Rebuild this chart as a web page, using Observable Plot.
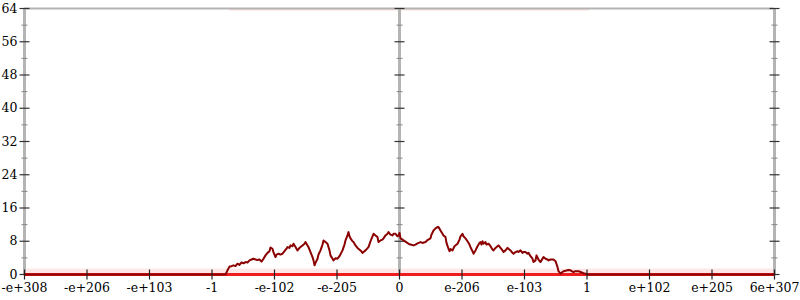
<!DOCTYPE html>
<html>
<head>
<meta charset="utf-8">
<script src="https://cdn.jsdelivr.net/npm/d3@7"></script>
<script src="https://cdn.jsdelivr.net/npm/@observablehq/plot@0.6"></script>
<style>
  html, body { margin: 0; padding: 0; background: #fff; }
</style>
</head>
<body>
<div id="chart"></div>
<script>
// x is a bin index over the bit-pattern axis (0 .. 750); 13 labelled ticks
const xTickValues = [0, 62.5, 125, 187.5, 250, 312.5, 375, 437.5, 500, 562.5, 625, 687.5, 750];
const xTickLabels = ["-e+308", "-e+206", "-e+103", "-1", "-e-102", "-e-205", "0",
                     "e-206", "e-103", "1", "e+102", "e+205", "6e+307"];
const yMajorTicks = [0, 8, 16, 24, 32, 40, 48, 56, 64];
const yMinorTicks = [4, 12, 20, 28, 36, 44, 52, 60];
const axisLines = [0, 375, 750];

// series
const seriesX = [0, 201, 203, 205, 207, 209, 211, 213, 215, 217, 219, 221, 223, 225, 227, 229, 231, 233, 235, 237, 239,
  241, 243, 245, 246, 248, 249, 251, 252, 254, 256, 258, 260, 262, 263, 265, 266, 268, 269, 271, 273,
  275, 276, 278, 280, 281, 283, 284, 286, 288, 289, 290, 291, 293, 294, 296, 298, 299, 301, 303, 305,
  306, 308, 309, 311, 313, 315, 318, 320, 321, 323, 324, 325, 326, 328, 329, 331, 333, 336, 338, 339,
  341, 344, 346, 348, 349, 351, 353, 354, 356, 358, 359, 361, 363, 364, 366, 368, 369, 371, 373, 374,
  375, 376, 378, 379, 381, 384, 386, 389, 391, 393, 396, 398, 401, 403, 406, 407, 409, 411, 413, 414,
  416, 418, 419, 421, 422, 424, 425, 426, 428, 430, 433, 435, 436, 438, 439, 441, 443, 445, 446, 448,
  449, 451, 453, 455, 456, 457, 458, 459, 461, 462, 464, 466, 468, 469, 471, 473, 474, 476, 478, 479,
  481, 483, 484, 486, 488, 489, 491, 493, 494, 496, 498, 499, 501, 503, 504, 506, 508, 509, 511, 512,
  514, 516, 517, 519, 521, 523, 524, 526, 529, 531, 533, 534, 536, 538, 539, 541, 544, 546, 548, 549,
  551, 554, 556, 559, 561, 563, 750];
const seriesY = [0, 0, 1.0, 1.9, 2.0, 2.2, 2.0, 2.6, 2.3, 2.9, 2.7, 3.0, 2.9, 3.4, 3.6, 3.8, 3.6, 3.5, 3.6, 3.1, 3.8,
  4.6, 5.2, 5.6, 6.5, 6.2, 5.3, 4.2, 4.8, 5.0, 4.8, 5.0, 5.6, 6.2, 6.6, 6.4, 7.0, 6.8, 7.4, 6.6, 5.8,
  6.4, 6.6, 7.0, 7.4, 7.8, 7.0, 6.6, 5.4, 4.2, 3.4, 2.2, 2.8, 3.8, 4.8, 5.8, 7.2, 8.2, 7.8, 7.4, 5.8,
  4.6, 3.8, 3.4, 3.9, 3.8, 4.4, 5.8, 7.2, 8.2, 9.4, 10.2, 9.2, 8.7, 8.0, 7.8, 7.0, 6.4, 5.8, 5.2, 5.4,
  5.8, 6.6, 8.0, 9.2, 9.8, 9.4, 9.0, 7.8, 8.2, 8.4, 8.7, 9.4, 9.8, 10.2, 9.6, 9.4, 9.8, 9.8, 9.2, 9.4,
  10.0, 8.7, 8.4, 8.2, 7.9, 7.4, 7.2, 7.0, 7.2, 7.5, 7.8, 7.6, 7.8, 8.3, 8.7, 9.6, 10.6, 11.1, 11.4, 11.4,
  10.6, 9.8, 9.4, 9.0, 7.6, 6.2, 5.6, 6.1, 5.8, 6.8, 7.4, 8.4, 9.2, 9.8, 9.2, 8.7, 8.0, 7.2, 6.6, 5.6,
  5.0, 5.8, 6.8, 7.6, 7.8, 7.2, 8.0, 7.4, 7.8, 7.2, 7.4, 6.8, 6.0, 5.8, 6.4, 6.8, 7.0, 6.4, 5.8, 5.4,
  5.8, 6.4, 6.2, 5.8, 5.2, 5.0, 5.4, 5.6, 5.4, 5.8, 5.2, 5.4, 5.4, 5.0, 5.2, 4.4, 3.8, 3.0, 3.4, 4.6,
  3.6, 3.0, 3.4, 4.2, 3.8, 3.6, 3.4, 3.6, 3.6, 3.2, 1.8, 0.8, 0.2, 0.6, 0.8, 0.9, 1.1, 1.0, 0.7, 0.6,
  0.8, 0.8, 0.6, 0.3, 0.2, 0, 0];

// faint scatter bands (near 0 everywhere, near 64 where the series is non-zero)
const lowBand = [{x1: 0, x2: 750, y1: 0, y2: 1.3}];
const highBand = [{x1: 205, x2: 565, y1: 63.4, y2: 64}];

const series = seriesX.map((x, i) => ({x, y: seriesY[i]}));
const majorY = axisLines.flatMap(x => yMajorTicks.map(y => ({x, y})));
const minorY = axisLines.flatMap(x => yMinorTicks.map(y => ({x, y})));
const bottomTicks = xTickValues.map(x => ({x, y: 0}));

const hTick = {draw(ctx, size) { const r = Math.sqrt(size / Math.PI); ctx.moveTo(-r, 0); ctx.lineTo(r, 0); }};
const vTick = {draw(ctx, size) { const r = Math.sqrt(size / Math.PI); ctx.moveTo(0, -r); ctx.lineTo(0, r); }};

const font = "DejaVu Serif";
const chart = Plot.plot({
  width: 800,
  height: 300,
  marginLeft: 24,
  marginRight: 26,
  marginTop: 8,
  marginBottom: 26,
  style: {fontFamily: font, fontSize: "12.5px", color: "#000", background: "#fff"},
  x: {domain: [0, 750]},
  y: {domain: [0, 64]},
  marks: [
    Plot.rect(lowBand, {x1: "x1", x2: "x2", y1: "y1", y2: "y2", fill: "#ff3030", fillOpacity: 0.12}),
    Plot.rect(highBand, {x1: "x1", x2: "x2", y1: "y1", y2: "y2", fill: "#ff3030", fillOpacity: 0.15}),
    Plot.ruleY([64], {stroke: "#b4b4b4", strokeWidth: 2}),
    Plot.ruleX(axisLines, {stroke: "#b4b4b4", strokeWidth: 3}),
    Plot.dot(majorY, {x: "x", y: "y", r: 5, symbol: hTick, stroke: "#333", strokeWidth: 1.2, fill: "none"}),
    Plot.dot(minorY, {x: "x", y: "y", r: 3, symbol: hTick, stroke: "#888", strokeWidth: 1, fill: "none"}),
    Plot.ruleY([0], {stroke: "#ee1c1c", strokeWidth: 3}),
    Plot.line(series, {x: "x", y: "y", stroke: "#8b0000", strokeWidth: 2, strokeLinejoin: "round"}),
    Plot.dot(bottomTicks, {x: "x", y: "y", r: 5, symbol: vTick, stroke: "#222", strokeWidth: 1.2, fill: "none"}),
    Plot.axisY({ticks: yMajorTicks, tickSize: 0, tickPadding: 7, anchor: "left", label: null, fill: "#000",
                fontFamily: font, fontSize: 12.5}),
    Plot.axisX({ticks: xTickValues, tickSize: 0, tickPadding: 9, label: null, fill: "#000",
                fontFamily: font, fontSize: 12.5,
                tickFormat: (d) => xTickLabels[xTickValues.indexOf(d)]})
  ]
});
document.getElementById("chart").appendChild(chart);
</script>
</body>
</html>
